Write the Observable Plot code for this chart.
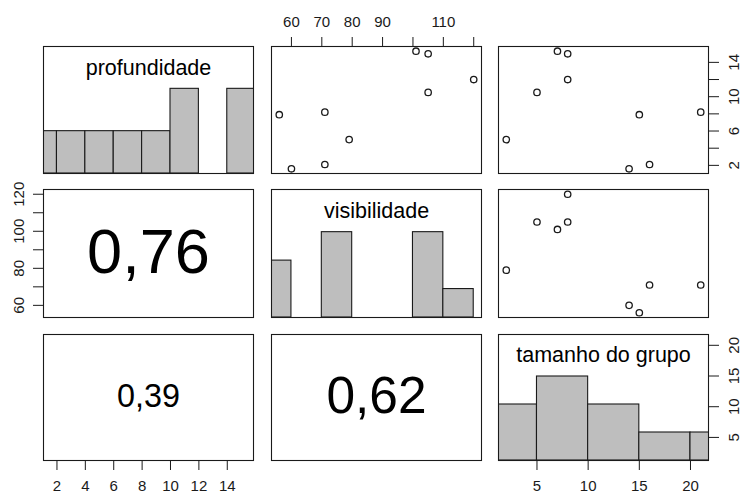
<!DOCTYPE html>
<html><head><meta charset="utf-8">
<script src="https://cdn.jsdelivr.net/npm/d3@7"></script>
<script src="https://cdn.jsdelivr.net/npm/@observablehq/plot@0.6"></script>
<style>
html,body{margin:0;padding:0;background:#fff;}
#chart{position:relative;width:744px;height:495px;overflow:hidden;}
#chart svg{position:absolute;left:0;top:0;}
</style></head><body><div id="chart"></div>
<script>
// ---- data ----
const varNames = ["profundidade", "visibilidade", "tamanho do grupo"];
const profundidade = [15.3, 15.0, 12.0, 10.5, 7.9, 8.2, 5.0, 1.6, 2.1];
const visibilidade = [101, 105, 120, 105, 56, 71, 79, 60, 71];
const tamanho = [7, 8, 8, 5, 15, 21, 2, 14, 16];
const profBreaks = [0, 2, 4, 6, 8, 10, 12, 14, 16];
const visBreaks = [50, 60, 70, 80, 90, 100, 110, 120];
const tamBreaks = [0, 5, 10, 15, 20, 25];
const corPairs = [[1, 0], [2, 0], [2, 1]];      // lower panels (row, col)
const correlations = [0.76, 0.39, 0.62];        // |r| shown in those panels
const profTicks = [2, 4, 6, 8, 10, 12, 14];
const profTickLabelsRight = [2, 6, 10, 14];
const visTicks = [60, 70, 80, 90, 100, 110, 120];
const visTickLabelsTop = [60, 70, 80, 90, 110];
const visTickLabelsLeft = [60, 80, 100, 120];
const tamTicks = [5, 10, 15, 20];

// ---- layout ----
const W = 744, H = 495;
const colX = [[43, 253], [271, 481], [498, 708]];
const rowY = [[46, 173], [189, 317], [334, 460]];
const series = [profundidade, visibilidade, tamanho];
const breaks = [profBreaks, visBreaks, tamBreaks];
const idx = d3.range(profundidade.length);
const FONT = "'Liberation Sans', Arial, Helvetica, sans-serif";
const INK = "#1a1a1a";
const chart = document.getElementById("chart");

function ext(v) { const [a, b] = d3.extent(v); const s = b - a; return [a - 0.04 * s, b + 0.04 * s]; }
function hist(values, br) { // right-closed bins like R's hist()
  const bins = [];
  for (let k = 0; k < br.length - 1; k++) {
    const lo = br[k], hi = br[k + 1];
    const n = values.filter(v => (k === 0 ? v >= lo : v > lo) && v <= hi).length;
    bins.push({x1: lo, x2: hi, n});
  }
  const m = d3.max(bins, d => d.n);
  bins.forEach(b => b.h = b.n / m);
  return bins;
}
function lbl(set) { return d => set.includes(d) ? String(d) : ""; }

function panel(i, j, xDomain, yDomain, marks) {
  const [x0, x1] = colX[j], [y0, y1] = rowY[i];
  const svg = Plot.plot({
    width: W, height: H,
    marginLeft: x0, marginRight: W - x1, marginTop: y0, marginBottom: H - y1,
    style: {background: "transparent", fontFamily: FONT, fontSize: "15px", color: INK, overflow: "visible"},
    x: {domain: xDomain, axis: null},
    y: {domain: yDomain, axis: null},
    marks
  });
  chart.appendChild(svg);
}

const axisCommon = {tickSize: 10, tickPadding: 10, fontSize: 15, stroke: INK, fill: INK};
const labelPos = (0.5 + 1 / 3) * 1.5;

// diagonal: histograms + names
for (let k = 0; k < 3; k++) {
  const bins = hist(series[k], breaks[k]);
  const marks = [
    Plot.rect(bins, {x1: "x1", x2: "x2", y1: 0, y2: "h", fill: "#bebebe", stroke: INK, strokeWidth: 1.1, clip: true}),
    Plot.text([varNames[k]], {y: labelPos, frameAnchor: "middle", text: d => d, fontSize: 21.5, fill: "#000"}),
    Plot.frame({stroke: INK, strokeWidth: 1.1})
  ];
  if (k === 2) {
    marks.push(Plot.axisX(tamTicks, {anchor: "bottom", ...axisCommon}));
  }
  panel(k, k, ext(series[k]), [0, 1.5], marks);
}
// right axis for row 3 (tamanho as y)
panel(2, 2, ext(tamanho), ext(tamanho), [
  Plot.axisY(tamTicks, {anchor: "right", tickRotate: -90, lineAnchor: "top", textAnchor: "middle", ...axisCommon})
]);

// upper panels: scatter
const upper = [[0, 1], [0, 2], [1, 2]];
for (const [i, j] of upper) {
  const marks = [
    Plot.dot(idx, {x: d => series[j][d], y: d => series[i][d], r: 3.2, stroke: INK, strokeWidth: 1.3, fill: "none"}),
    Plot.frame({stroke: INK, strokeWidth: 1.1})
  ];
  if (i === 0 && j === 1) marks.push(Plot.axisX(visTicks, {anchor: "top", tickFormat: lbl(visTickLabelsTop), ...axisCommon}));
  if (i === 0 && j === 2) marks.push(Plot.axisY(profTicks, {anchor: "right", tickRotate: -90, lineAnchor: "top", textAnchor: "middle", tickFormat: lbl(profTickLabelsRight), ...axisCommon}));
  panel(i, j, ext(series[j]), ext(series[i]), marks);
}

// lower panels: correlation text, size proportional to r
corPairs.forEach(([i, j], c) => {
  const r = correlations[c];
  const marks = [
    Plot.text([r], {frameAnchor: "middle", text: d => d.toFixed(2).replace(".", ","), fontSize: 83 * r, fill: "#000", dy: -1}),
    Plot.frame({stroke: INK, strokeWidth: 1.1})
  ];
  if (i === 1 && j === 0) marks.push(Plot.axisY(visTicks, {anchor: "left", tickRotate: -90, lineAnchor: "bottom", textAnchor: "middle", tickFormat: lbl(visTickLabelsLeft), ...axisCommon}));
  if (i === 2 && j === 0) marks.push(Plot.axisX(profTicks, {anchor: "bottom", ...axisCommon}));
  panel(i, j, ext(series[j]), ext(series[i]), marks);
});
</script></body></html>
